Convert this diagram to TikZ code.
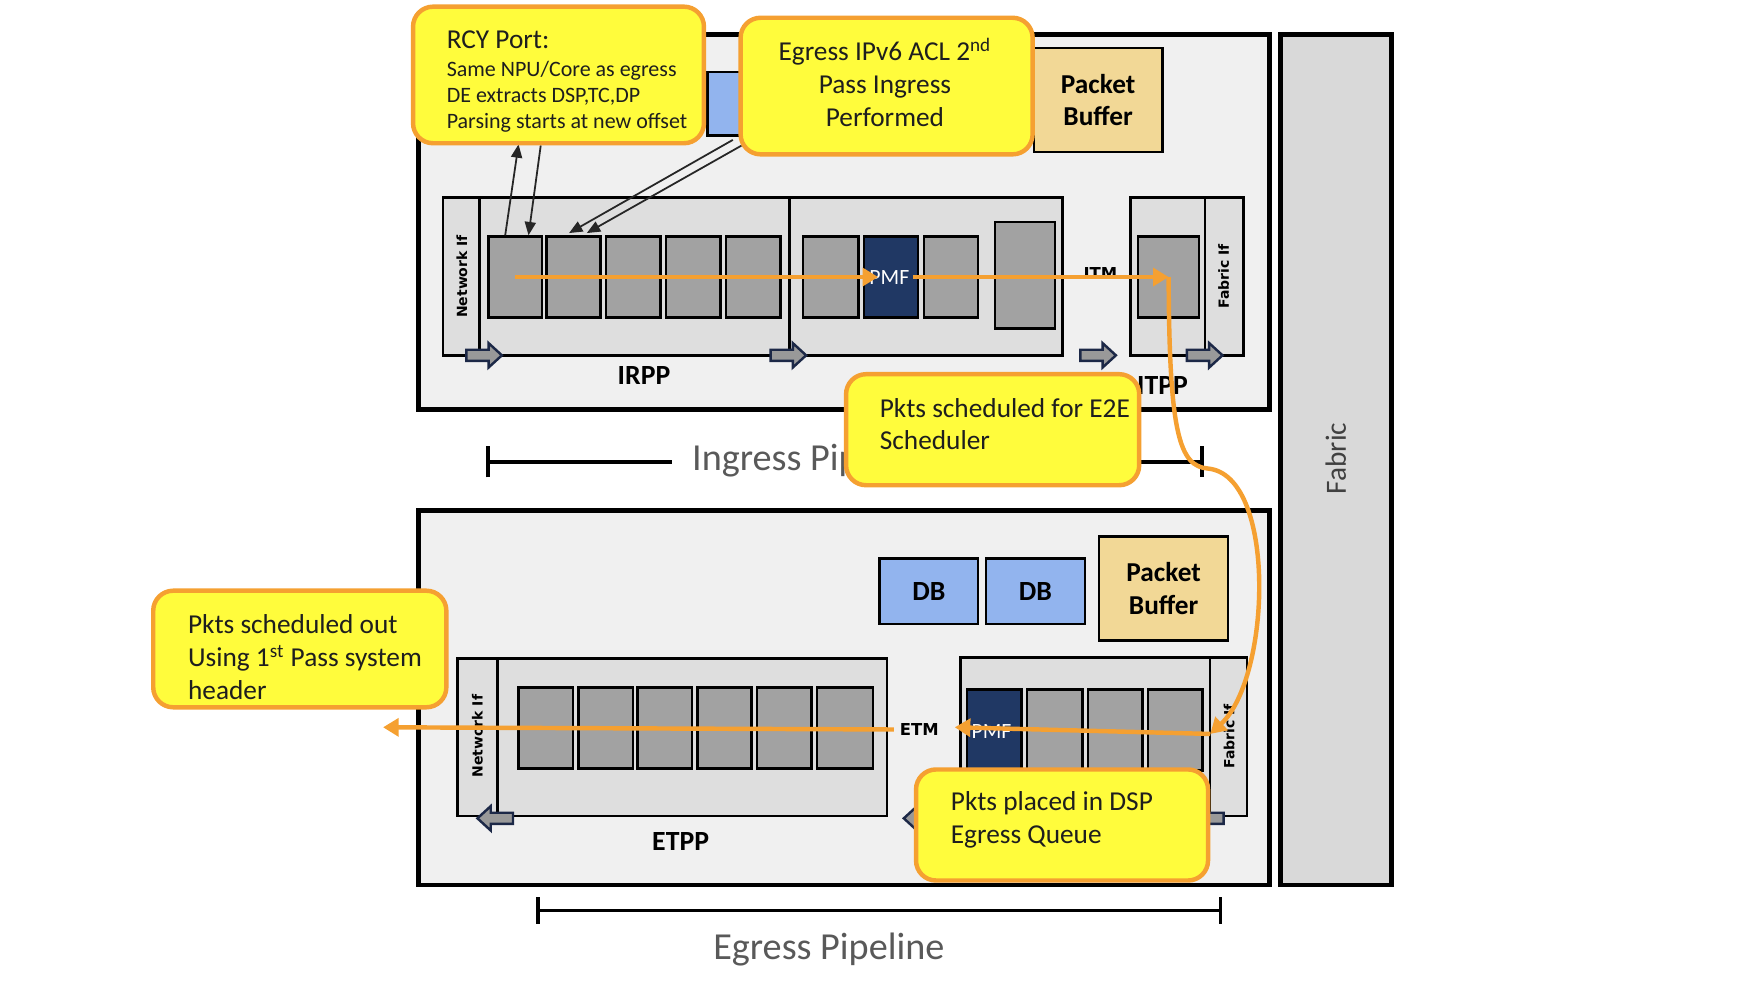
\documentclass[tikz,border=0pt]{standalone}
\usepackage{fontspec}
\setmainfont{Carlito}
\newfontfamily\dvs{DejaVu Sans}
\usetikzlibrary{fit,arrows.meta,calc}
\definecolor{outerfill}{RGB}{240,240,240}
\definecolor{pipefill}{RGB}{222,222,222}
\definecolor{cellfill}{RGB}{162,162,162}
\definecolor{navy}{RGB}{32,56,100}
\definecolor{dbblue}{RGB}{146,180,238}
\definecolor{pbuf}{RGB}{242,216,150}
\definecolor{fabfill}{RGB}{217,217,217}
\definecolor{yel}{RGB}{255,252,60}
\definecolor{orng}{RGB}{245,160,49}
\definecolor{arrnavy}{RGB}{28,40,71}
\definecolor{pipegray}{RGB}{89,89,89}
\definecolor{fabtext}{RGB}{64,64,64}
\definecolor{ctext}{RGB}{30,30,30}
\newcommand\blkR[2]{\draw[blkarrow] (#1,#2) -- ++(-12,-11) -- ++(0,6) -- ++(-20,0) -- ++(0,10) -- ++(20,0) -- ++(0,6) -- cycle;}
\newcommand\blkL[2]{\draw[blkarrow] (#1,#2) -- ++(12,-11) -- ++(0,6) -- ++(20,0) -- ++(0,10) -- ++(-20,0) -- ++(0,6) -- cycle;}
\tikzset{
  outerbox/.style={draw, line width=2.2pt, fill=outerfill, inner sep=0pt},
  fabbox/.style={draw, line width=2.2pt, fill=fabfill, inner sep=0pt},
  pipebox/.style={draw, line width=1.1pt, fill=pipefill, inner sep=0pt},
  cell/.style={draw, line width=1.1pt, fill=cellfill, inner sep=0pt},
  pmfcell/.style={cell, fill=navy},
  dbbox/.style={draw, line width=1.1pt, fill=dbblue, inner sep=0pt},
  pbbox/.style={draw, line width=1.1pt, fill=pbuf, inner sep=0pt},
  dbtxt/.style={inner sep=0pt, font=\fontsize{12.5}{14}\selectfont\bfseries},
  pbtxt/.style={inner sep=0pt, align=center, font=\fontsize{12.3}{14.6}\selectfont\bfseries},
  callout/.style={draw=orng, line width=2pt, fill=yel, rounded corners=9pt, inner sep=0pt},
  ctxt/.style={inner sep=0pt, align=left, text=ctext, font=\fontsize{12.3}{14.8}\selectfont},
  flow/.style={draw=orng, line width=2pt, -{Triangle[length=7pt,width=8pt]}},
  thinarr/.style={draw=black!85, line width=0.8pt, -{Triangle[length=6pt,width=5pt]}},
  blkarrow/.style={draw=arrnavy, fill=cellfill!110, line width=1.1pt, line join=miter},
  smalllbl/.style={inner sep=0pt, font=\dvs\fontsize{6.3}{7}\selectfont\bfseries},
  stagelbl/.style={inner sep=0pt, font=\fontsize{12.5}{14}\selectfont\bfseries},
  pmflbl/.style={inner sep=0pt, text=white, font=\fontsize{9.8}{11}\selectfont},
  pipelbl/.style={inner sep=0pt, text=pipegray, font=\fontsize{17.2}{20}\selectfont},
  bracket/.style={line width=1.5pt}
}
\begin{document}
\begin{tikzpicture}[x=0.5pt,y=-0.5pt]
\useasboundingbox (0,0) rectangle (1568,889);

% main frames
\node[outerbox, fit={(377,31)(1143,369)}] (ing) {};
\node[fabbox, fit={(1153,31)(1253,797)}] (fab) {};
\node[rotate=90, inner sep=0pt, text=fabtext, font=\fontsize{13.2}{15}\selectfont] (fablbl) at (1203,413) {Fabric};
\node[outerbox, fit={(377,460)(1143,797)}] (egr) {};

% ---------------- ingress ----------------
\node[dbbox, fit={(637,65)(705,122)}] (idb) {};
\node[pbbox, fit={(931,43)(1047,137)}] (ipb) {};
\node[pbtxt] (ipbt) at (ipb.center) {Packet\\Buffer};

\node[pipebox, fit={(399,178)(432,320)}] (inif) {};
\node[pipebox, fit={(432,178)(711,320)}] (irppa) {};
\node[pipebox, fit={(711,178)(957,320)}] (irppb) {};
\node[smalllbl, rotate=90] (inifl) at (416,249) {Network If};

\node[cell, fit={(440,213)(488,286)}] (c1) {};
\node[cell, fit={(492,213)(541,286)}] (c2) {};
\node[cell, fit={(546,213)(595,286)}] (c3) {};
\node[cell, fit={(600,213)(649,286)}] (c4) {};
\node[cell, fit={(654,213)(703,286)}] (c5) {};
\node[cell, fit={(723,213)(773,286)}] (c6) {};
\node[pmfcell, fit={(778,213)(827,286)}] (ipmf) {};
\node[cell, fit={(832,213)(881,286)}] (c8) {};
\node[cell, fit={(896,200)(950,296)}] (c9) {};
\node[pmflbl] (ipmfl) at (801,250) {PMF};

\node[pipebox, fit={(1018,178)(1085,320)}] (itpp) {};
\node[pipebox, fit={(1085,178)(1120,320)}] (ifif) {};
\node[cell, fit={(1025,213)(1080,286)}] (itc) {};
\node[smalllbl, rotate=90] (ififl) at (1102,249) {Fabric If};

\node[inner sep=0pt, font=\dvs\fontsize{7.4}{8}\selectfont\bfseries] (itm) at (991,246) {ITM};
\node[stagelbl] (irppl) at (580,338) {IRPP};
\node[stagelbl] (itppl) at (1047,347) {ITPP};

\blkR{452}{320}
\blkR{726}{320}
\blkR{1005}{320}
\blkR{1101}{320}

% ---------------- egress ----------------
\node[dbbox, fit={(792,503)(881,562)}] (edb1) {};
\node[dbtxt] (edb1t) at (edb1.center) {DB};
\node[dbbox, fit={(888,503)(977,562)}] (edb2) {};
\node[dbtxt] (edb2t) at (edb2.center) {DB};
\node[pbbox, fit={(990,483)(1106,577)}] (epb) {};
\node[pbtxt] (epbt) at (epb.center) {Packet\\Buffer};

\node[pipebox, fit={(412,593)(448,735)}] (enif) {};
\node[pipebox, fit={(448,593)(799,735)}] (etpp) {};
\node[smalllbl, rotate=90] (enifl) at (430,663) {Network If};
\node[cell, fit={(467,619)(516,692)}] (e1) {};
\node[cell, fit={(521,619)(570,692)}] (e2) {};
\node[cell, fit={(574,619)(623,692)}] (e3) {};
\node[cell, fit={(628,619)(677,692)}] (e4) {};
\node[cell, fit={(682,619)(731,692)}] (e5) {};
\node[cell, fit={(736,619)(786,692)}] (e6) {};
\node[stagelbl] (etppl) at (613,758) {ETPP};

\node[pipebox, fit={(865,592)(1090,735)}] (erx) {};
\node[pipebox, fit={(1090,592)(1123,735)}] (efif) {};
\node[smalllbl, rotate=90] (efifl) at (1107,663) {Fabric If};
\node[pmfcell, fit={(871,621)(920,694)}] (epmf) {};
\node[cell, fit={(925,621)(975,694)}] (f2) {};
\node[cell, fit={(980,621)(1029,694)}] (f3) {};
\node[cell, fit={(1034,621)(1083,694)}] (f4) {};
\node[pmflbl] (epmfl) at (893,659) {PMF};
\node[inner sep=0pt, font=\dvs\fontsize{7.4}{8}\selectfont\bfseries] (etm) at (828,657) {ETM};

\blkL{430}{737}
\blkL{814}{737}
\blkL{1070}{737}

% ---------------- pipeline brackets ----------------
\draw[bracket, {Bar[width=14pt]}-] (438,416) -- (605,416);
\draw[bracket, -{Bar[width=14pt]}] (857,416) -- (1084,416);
\node[pipelbl, anchor=base west] (ingpl) at (623,424) {Ingress Pipeline};
\draw[bracket, {Bar[width=12pt]}-{Bar[width=12pt]}] (483,820) -- (1101,820);
\node[pipelbl, anchor=base west] (egpl) at (642,864) {Egress Pipeline};

% ---------------- orange flow ----------------
\draw[flow] (c1.center) -- ($(ipmf.west)+(14,0)$);
\draw[flow] ($(ipmf.east)+(-6,0)$) -- (itc.center);
\draw[flow] (itc.center) .. controls (1053,390) and (1062,420) .. (1088,422)
   .. controls (1150,428) and (1145,610) .. (1090,661);
\coordinate (fin) at (1090,661);
\draw[flow] (fin) -- ($(epmf.west)+(-10,-2.5)$);
\coordinate (outpt) at (345,655);
\draw[flow] ($(etm.west)+(-5,0)$) -- (outpt);

% ---------------- thin black arrows ----------------
\coordinate (ra) at (467,130);
\coordinate (rb) at (487,131);
\coordinate (ea) at (660,126);
\coordinate (eb) at (668,131);
\draw[thinarr] ($(c1.north)+(-9,0)$) -- (ra);
\draw[thinarr] (rb) -- ($(c1.north)+(12,0)$);
\draw[thinarr] (ea) -- ($(c2.north)+(-4,-2)$);
\draw[thinarr] (eb) -- ($(c2.north)+(12,-2)$);

% ---------------- callouts ----------------
\node[callout, fit={(372,6)(634,129)}] (rcy) {};
\node[ctxt, anchor=west, font=\fontsize{9.9}{11.5}\selectfont] (rcyt) at (402,73)
  {{\fontsize{12.3}{14}\selectfont RCY Port:}\\[1.5pt]Same NPU/Core as egress\\DE extracts DSP,TC,DP\\Parsing starts at new offset};
\node[callout, fit={(667,16)(930,139)}] (eacl) {};
\node[ctxt, align=center] (eaclt) at (797,74) {Egress IPv6 ACL 2\textsuperscript{nd}\\Pass Ingress\\Performed};
\node[callout, fit={(762,337)(1026,437)}] (e2e) {};
\node[ctxt, anchor=west] (e2et) at (792,382) {Pkts scheduled for E2E\\Scheduler};
\node[callout, fit={(138,532)(402,637)}] (sout) {};
\node[ctxt, anchor=west] (soutt) at (169,592) {Pkts scheduled out\\Using 1\textsuperscript{st} Pass system\\header};
\node[callout, fit={(825,693)(1088,793)}] (dsp) {};
\node[ctxt, anchor=west] (dspt) at (856,738) {Pkts placed in DSP\\Egress Queue};
\end{tikzpicture}
\end{document}
